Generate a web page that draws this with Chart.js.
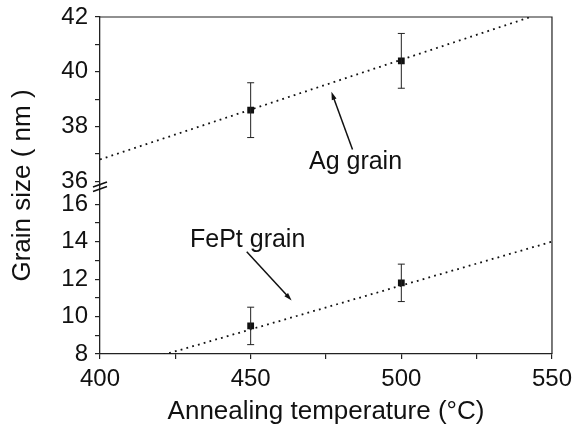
<!DOCTYPE html>
<html>
<head>
<meta charset="utf-8">
<script src="https://cdn.jsdelivr.net/npm/chart.js@4.4.1/dist/chart.umd.min.js"></script>
<style>
  html, body { margin: 0; padding: 0; background: #fff; }
</style>
</head>
<body>
<canvas id="myChart" width="578" height="429"></canvas>
<script>
// measured points
const temps = [450, 500];
const agSize = [38.6, 40.4];
const agErr = [1.0, 1.0];
const feptSize = [9.5, 11.8];
const feptErr = [1.0, 1.0];

// fitted lines (end points)
const fitTemps = [400, 550];
const agFit = [36.8, 42.26];
const feptFit = [6.97, 14.0];

// axis ticks
const xTicks = [400, 425, 450, 475, 500, 525, 550];
const yTopTicks = [36, 37, 38, 39, 40, 41, 42];
const yBotTicks = [8, 9, 10, 11, 12, 13, 14, 15, 16];

// labels + arrows, in data units
const notes = [
    { text: 'Ag grain', axis: 'yTop', x: 484.8, y: 36.44, from: [483.8, 37.16], to: [476.8, 39.27] },
    { text: 'FePt grain', axis: 'yBot', x: 449.0, y: 13.73, from: [448.7, 13.46], to: [463.6, 10.86] }
];

const ink = '#111';
const family = "'Liberation Sans', Arial, Helvetica, sans-serif";

const toXY = (xs, ys) => xs.map((x, i) => ({ x: x, y: ys[i] }));

function yAxis(min, max, ticks) {
    return {
        type: 'linear',
        position: 'left',
        stack: 'y',
        stackWeight: 1,
        min: min,
        max: max,
        afterBuildTicks: s => { s.ticks = ticks.map(v => ({ value: v })); },
        afterFit: s => { s.width = 63; s.paddingTop = 0; s.paddingBottom = 0; },
        ticks: {
            autoSkip: false,
            padding: 7,
            color: ink,
            font: { family: family, size: 24 },
            callback: v => (v % 2 === 0 ? String(v) : '')
        },
        grid: { drawOnChartArea: false, tickLength: 5, color: '#222', lineWidth: 1.2 },
        border: { color: '#222', width: 1.3 }
    };
}

// error bars, frame, axis break and notes
const extras = {
    id: 'extras',
    afterDatasetsDraw(chart) {
        const ctx = chart.ctx;
        const x = chart.scales.x;
        const area = chart.chartArea;
        ctx.save();
        ctx.strokeStyle = '#222';
        ctx.lineWidth = 1.2;

        // frame top + right
        ctx.beginPath();
        ctx.moveTo(area.left, area.top);
        ctx.lineTo(area.right, area.top);
        ctx.lineTo(area.right, area.bottom);
        ctx.stroke();

        // error bars
        const bars = (sizes, errs, ax) => {
            const sc = chart.scales[ax];
            temps.forEach((t, i) => {
                const px = x.getPixelForValue(t);
                const lo = sc.getPixelForValue(sizes[i] - errs[i]);
                const hi = sc.getPixelForValue(sizes[i] + errs[i]);
                ctx.beginPath();
                ctx.moveTo(px, lo); ctx.lineTo(px, hi);
                ctx.moveTo(px - 3.5, lo); ctx.lineTo(px + 3.5, lo);
                ctx.moveTo(px - 3.5, hi); ctx.lineTo(px + 3.5, hi);
                ctx.stroke();
            });
        };
        ctx.lineWidth = 1;
        bars(agSize, agErr, 'yTop');
        bars(feptSize, feptErr, 'yBot');

        // axis break
        const yb = chart.scales.yTop.bottom;
        ctx.lineWidth = 1.6;
        ctx.strokeStyle = ink;
        ctx.beginPath();
        ctx.moveTo(area.left - 7, yb + 1.5); ctx.lineTo(area.left + 7, yb - 3.5);
        ctx.moveTo(area.left - 7, yb + 6); ctx.lineTo(area.left + 7, yb + 1);
        ctx.stroke();

        // notes
        ctx.fillStyle = ink;
        ctx.font = '25px ' + family;
        ctx.textAlign = 'center';
        ctx.textBaseline = 'alphabetic';
        notes.forEach(n => {
            const sc = chart.scales[n.axis];
            ctx.fillText(n.text, x.getPixelForValue(n.x), sc.getPixelForValue(n.y));
            const x0 = x.getPixelForValue(n.from[0]), y0 = sc.getPixelForValue(n.from[1]);
            const x1 = x.getPixelForValue(n.to[0]), y1 = sc.getPixelForValue(n.to[1]);
            const a = Math.atan2(y1 - y0, x1 - x0);
            ctx.lineWidth = 1.5;
            ctx.beginPath();
            ctx.moveTo(x0, y0);
            ctx.lineTo(x1 - 5 * Math.cos(a), y1 - 5 * Math.sin(a));
            ctx.stroke();
            ctx.beginPath();
            ctx.moveTo(x1, y1);
            ctx.lineTo(x1 - 8 * Math.cos(a) + 2.5 * Math.sin(a), y1 - 8 * Math.sin(a) - 2.5 * Math.cos(a));
            ctx.lineTo(x1 - 8 * Math.cos(a) - 2.5 * Math.sin(a), y1 - 8 * Math.sin(a) + 2.5 * Math.cos(a));
            ctx.closePath();
            ctx.fill();
        });
        ctx.restore();
    }
};

const dotted = {
    showLine: true,
    borderColor: ink,
    borderWidth: 1.8,
    borderDash: [1.8, 4.2],
    pointRadius: 0,
    fill: false
};

const points = {
    showLine: false,
    pointStyle: 'rect',
    pointRadius: 4.8,
    pointBackgroundColor: ink,
    pointBorderColor: ink,
    pointBorderWidth: 0
};

const config = {
    type: 'scatter',
    data: {
        datasets: [
            { ...dotted, label: 'Ag fit', data: toXY(fitTemps, agFit), yAxisID: 'yTop' },
            { ...dotted, label: 'FePt fit', data: toXY(fitTemps, feptFit), yAxisID: 'yBot' },
            { ...points, label: 'Ag', data: toXY(temps, agSize), yAxisID: 'yTop' },
            { ...points, label: 'FePt', data: toXY(temps, feptSize), yAxisID: 'yBot' }
        ]
    },
    options: {
        responsive: false,
        animation: false,
        layout: { padding: { top: 17, right: 25, left: 0, bottom: 0 } },
        plugins: {
            legend: { display: false },
            tooltip: { enabled: false }
        },
        scales: {
            x: {
                type: 'linear',
                position: 'bottom',
                min: 400,
                max: 550,
                afterBuildTicks: s => { s.ticks = xTicks.map(v => ({ value: v })); },
                afterFit: s => { s.height = 75; },
                ticks: {
                    autoSkip: false,
                    maxRotation: 0,
                    padding: 6,
                    color: ink,
                    font: { family: family, size: 24 },
                    callback: v => (v % 50 === 0 ? String(v) : '')
                },
                grid: { drawOnChartArea: false, tickLength: 5, color: '#222', lineWidth: 1.2 },
                border: { color: '#222', width: 1.3 },
                title: {
                    display: true,
                    text: 'Annealing temperature (°C)',
                    color: ink,
                    font: { family: family, size: 26 },
                    padding: { top: 0, bottom: 2 }
                }
            },
            yBot: yAxis(8, 17.0, yBotTicks),
            yTop: yAxis(35.85, 42, yTopTicks),
            yTitle: {
                type: 'linear',
                position: 'left',
                weight: 10,
                afterFit: s => { s.width = 37; },
                ticks: { display: false },
                grid: { display: false },
                border: { display: false },
                title: {
                    display: true,
                    text: 'Grain size ( nm )',
                    color: ink,
                    font: { family: family, size: 26 },
                    padding: { top: 7, bottom: 0 }
                }
            }
        }
    },
    plugins: [extras]
};

new Chart(document.getElementById('myChart'), config);
</script>
</body>
</html>
